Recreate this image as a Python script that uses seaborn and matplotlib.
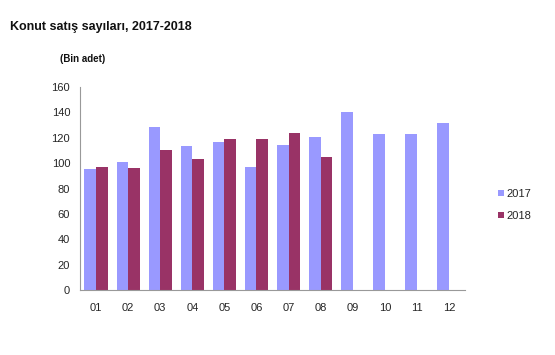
import numpy as np
import pandas as pd
import seaborn as sns
import matplotlib.pyplot as plt

months = ['01', '02', '03', '04', '05', '06', '07', '08', '09', '10', '11', '12']
sales_2017 = [95.2, 101.2, 128.3, 113.6, 116.3, 97.0, 114.2, 120.3, 140.0, 122.9, 122.9, 131.9]
sales_2018 = [97.2, 96.0, 110.1, 103.3, 119.0, 119.3, 123.4, 105.0, np.nan, np.nan, np.nan, np.nan]
years = ['2017', '2018']
colors = ['#9999FF', '#993366']

df = pd.DataFrame({
    'month': months * 2,
    'value': sales_2017 + sales_2018,
    'year': [years[0]] * 12 + [years[1]] * 12,
})

sns.set_style('white')
plt.rcParams['font.family'] = ['Liberation Sans', 'DejaVu Sans']

fig = plt.figure(figsize=(5.55, 3.55), dpi=100)
ax = fig.add_axes([0.144, 0.183, 0.694, 0.572])

sns.barplot(data=df, x='month', y='value', hue='year', palette=colors,
            width=0.72, gap=0, saturation=1, linewidth=0, ax=ax, legend=True)

ax.set_ylim(0, 160)
ax.set_yticks(range(0, 161, 20))
ax.set_xlim(-0.5, 11.5)
ax.set_xlabel('')
ax.set_ylabel('')

for s in ['top', 'right']:
    ax.spines[s].set_visible(False)
for s in ['left', 'bottom']:
    ax.spines[s].set_color('#999999')
    ax.spines[s].set_linewidth(0.8)

ax.tick_params(axis='y', length=3, color='#999999', labelsize=8, pad=4)
ax.tick_params(axis='x', length=0, labelsize=8, pad=9)
ax.set_xticks(np.arange(-0.5, 12, 1), minor=True)
ax.tick_params(axis='x', which='minor', length=3, color='#999999', direction='out')

h, l = ax.get_legend_handles_labels()
ax.legend(h, l, loc='center left', bbox_to_anchor=(1.06, 0.42), frameon=False,
          fontsize=8, handlelength=0.5, handleheight=0.5, handletextpad=0.2,
          labelspacing=1.1)

fig.text(0.018, 0.915, 'Konut satış sayıları, 2017-2018', fontsize=9,
         fontweight='bold', color='#111111')
fig.text(0.108, 0.825, '(Bin adet)', fontsize=7, fontweight='bold', color='#111111')

fig.savefig('out.png', dpi=100)
